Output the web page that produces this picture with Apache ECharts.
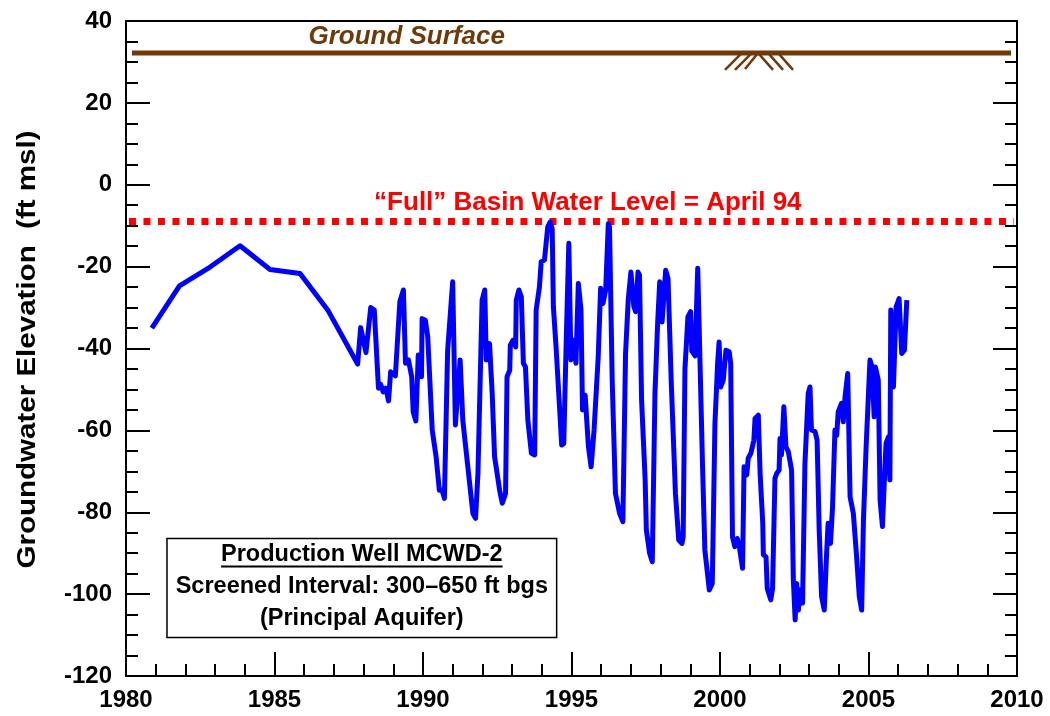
<!DOCTYPE html>
<html>
<head>
<meta charset="utf-8">
<script src="https://cdn.jsdelivr.net/npm/echarts@6/dist/echarts.min.js"></script>
<style>html,body{margin:0;padding:0;background:#fff}#c{width:1050px;height:716px}</style>
</head>
<body>
<div id="c"></div>
<script>
// ---- data ----
const years = [1980.87,1981.8,1982.83,1983.84,1984.85,1985.86,1986.81,1987.8,1987.9,1988.08,1988.24,1988.36,1988.5,1988.57,1988.66,1988.75,1988.84,1988.91,1989.07,1989.22,1989.34,1989.41,1989.51,1989.62,1989.67,1989.76,1989.84,1989.95,1989.97,1990.08,1990.16,1990.31,1990.44,1990.55,1990.64,1990.72,1990.83,1991.0,1991.09,1991.25,1991.34,1991.46,1991.57,1991.68,1991.77,1991.85,1991.99,1992.08,1992.13,1992.24,1992.33,1992.41,1992.58,1992.67,1992.78,1992.83,1992.92,1992.94,1993.03,1993.12,1993.14,1993.23,1993.31,1993.38,1993.45,1993.53,1993.65,1993.76,1993.81,1993.92,1993.98,1994.09,1994.2,1994.28,1994.35,1994.39,1994.48,1994.59,1994.67,1994.74,1994.82,1994.91,1994.98,1995.07,1995.15,1995.23,1995.32,1995.37,1995.46,1995.57,1995.66,1995.76,1995.9,1995.98,1996.06,1996.15,1996.24,1996.28,1996.37,1996.48,1996.62,1996.73,1996.82,1996.91,1997.0,1997.1,1997.16,1997.24,1997.29,1997.36,1997.48,1997.52,1997.63,1997.72,1997.81,1997.9,1997.97,1998.05,1998.17,1998.25,1998.36,1998.5,1998.61,1998.72,1998.76,1998.82,1998.92,1999.01,1999.05,1999.16,1999.25,1999.41,1999.49,1999.64,1999.74,1999.83,1999.92,1999.97,2000.02,2000.11,2000.2,2000.31,2000.36,2000.42,2000.5,2000.58,2000.65,2000.76,2000.81,2000.9,2000.95,2001.04,2001.14,2001.18,2001.29,2001.35,2001.44,2001.46,2001.55,2001.59,2001.71,2001.77,2001.85,2001.91,2001.99,2002.02,2002.07,2002.15,2002.22,2002.3,2002.41,2002.47,2002.53,2002.58,2002.64,2002.69,2002.78,2002.86,2002.97,2003.03,2003.08,2003.2,2003.27,2003.34,2003.42,2003.51,2003.59,2003.64,2003.72,2003.79,2003.87,2003.93,2003.98,2004.09,2004.15,2004.21,2004.3,2004.38,2004.49,2004.6,2004.69,2004.77,2004.83,2004.92,2005.05,2005.12,2005.19,2005.23,2005.33,2005.39,2005.47,2005.53,2005.59,2005.67,2005.72,2005.75,2005.84,2005.93,2006.03,2006.12,2006.21,2006.29];
const levels = [-35,-24.7,-20.1,-14.9,-20.7,-21.7,-30.8,-43.8,-34.9,-41,-30,-30.6,-49.7,-48.7,-50.6,-49.7,-52.8,-45.7,-46.7,-28.6,-25.7,-43.6,-42.8,-46.9,-55.5,-57.7,-41.6,-46.9,-32.7,-33.1,-37.2,-59.9,-66.4,-74.6,-74.6,-76.6,-40.4,-23.7,-58.7,-42.8,-57.5,-65.6,-72.9,-80.3,-81.5,-70.5,-28.2,-25.7,-42.8,-38.8,-51,-66.4,-74.6,-77.8,-75.4,-46.9,-45.3,-39.2,-38,-39.6,-28.2,-25.7,-27.4,-43.6,-44.5,-57.5,-65.6,-66,-30.6,-25,-18.8,-18.4,-10.3,-9.1,-10.7,-29.8,-39.6,-53.4,-63.6,-63.2,-38.8,-14.3,-42.8,-38,-43.6,-24.1,-30.6,-55,-51.4,-64,-68.9,-59.9,-42,-25.3,-29,-25.7,-9.5,-10.3,-47.7,-75.4,-80.3,-82.3,-41.2,-28.2,-21.3,-29.8,-31,-21.3,-22.1,-52.6,-72.1,-84.3,-90,-92.1,-51,-33.9,-23.7,-33.5,-20.9,-22.9,-48.5,-75.4,-86.8,-87.6,-86,-45,-32.3,-31,-40.6,-41.8,-20.4,-68.1,-89.2,-99,-97.4,-58.3,-43.6,-38.4,-49.4,-47.7,-40.4,-40.8,-43.6,-86,-88.4,-86.4,-88.4,-93.7,-68.9,-70.9,-66.8,-65.6,-62.4,-57.1,-56.3,-70.5,-82.7,-90.4,-90.9,-98.6,-101.4,-98.6,-71.7,-70.5,-69.7,-62,-66,-54.2,-64,-65.2,-69.7,-96.5,-106.3,-97.4,-103.9,-99,-102.2,-68.1,-51,-49.4,-59.9,-60.3,-62.4,-84.3,-100.6,-103.9,-90,-82.7,-87.6,-78.6,-59.9,-61.2,-55.5,-53.4,-57.9,-51.8,-46.1,-76.2,-80.3,-90.9,-100.6,-103.9,-81.9,-64,-42.8,-44.5,-56.7,-44.5,-47.7,-77,-83.5,-72.9,-63.2,-61.6,-72.1,-30.6,-49.4,-29.8,-27.8,-41.2,-40.4,-28.2];
const groundSurface = 32.2;
const groundExtent = [1980.2, 2009.8];
const fullBasinLevel = -9;
const basinExtent = [1980.1, 2009.9];
const xTicks = {min: 1980, max: 2010, interval: 5};
const yTicks = {min: -120, max: 40, interval: 20};
const titleY = 'Groundwater Elevation  (ft msl)';
const groundLabel = 'Ground Surface';
const basinLabel = '\u201CFull\u201D Basin Water Level = April 94';
const boxLines = ['Production Well MCWD-2', 'Screened Interval: 300\u2013650 ft bgs', '(Principal Aquifer)'];

(function () {
const FONT = '"Liberation Sans", Arial, sans-serif';
const BROWN = '#6E3A0A';
const chart = echarts.init(document.getElementById('c'), null, {renderer: 'canvas'});
const mctx = document.createElement('canvas').getContext('2d');
function measure(text, font) { mctx.font = font; return mctx.measureText(text).width; }

const axisLine = {show: true, onZero: false, lineStyle: {color: '#000', width: 2}};
const option = {
  animation: false,
  backgroundColor: '#fff',
  grid: {left: 126, right: 33, top: 21, bottom: 40, containLabel: false},
  xAxis: [{
    type: 'value', min: xTicks.min, max: xTicks.max, interval: xTicks.interval,
    axisLine: axisLine,
    axisTick: {show: true, inside: true, length: 24, lineStyle: {color: '#000', width: 2}},
    minorTick: {show: true, splitNumber: 5, length: 12, lineStyle: {color: '#000', width: 2}},
    splitLine: {show: false},
    axisLabel: {fontFamily: FONT, fontWeight: 'bold', fontSize: 24, color: '#000', margin: 12, formatter: v => String(v)},
  }, {
    type: 'value', position: 'top', min: xTicks.min, max: xTicks.max,
    axisLine: axisLine, axisTick: {show: false}, axisLabel: {show: false}, splitLine: {show: false}
  }],
  yAxis: [{
    type: 'value', min: yTicks.min, max: yTicks.max, interval: yTicks.interval,
    axisLine: axisLine,
    axisTick: {show: true, inside: true, length: 24, lineStyle: {color: '#000', width: 2}},
    minorTick: {show: true, splitNumber: 4, length: 12, lineStyle: {color: '#000', width: 2}},
    splitLine: {show: false},
    axisLabel: {fontFamily: FONT, fontWeight: 'bold', fontSize: 24, color: '#000', margin: 14, formatter: v => String(v)}
  }, {
    type: 'value', position: 'right', min: yTicks.min, max: yTicks.max, interval: yTicks.interval,
    axisLine: axisLine,
    axisTick: {show: true, inside: true, length: 24, lineStyle: {color: '#000', width: 2}},
    minorTick: {show: true, splitNumber: 4, length: 12, lineStyle: {color: '#000', width: 2}},
    splitLine: {show: false}, axisLabel: {show: false}
  }],
  series: [{
    type: 'line', name: 'ground', symbol: 'none', silent: true,
    data: groundExtent.map(x => [x, groundSurface]),
    lineStyle: {color: BROWN, width: 5}
  }, {
    type: 'line', name: 'basin', symbol: 'none', silent: true,
    data: basinExtent.map(x => [x, fullBasinLevel]),
    lineStyle: {color: '#FF0000', width: 7, type: [7, 7.5], cap: 'butt'}
  }, {
    type: 'line', name: 'well', symbol: 'none', silent: true,
    data: years.map((y, i) => [y, levels[i]]),
    lineStyle: {color: '#0000FF', width: 5, join: 'round'}
  }]
};
chart.setOption(option);

function px(x, y) { return chart.convertToPixel({xAxisIndex: 0, yAxisIndex: 0}, [x, y]); }

const g = [];
// Y axis title (stretched along its length to match reference)
const titleFont = 'bold 26px ' + FONT;
const tw = measure(titleY, titleFont);
const pTop = px(1980, 40), pBot = px(1980, -120);
g.push({type: 'text', x: 28, y: (pTop[1] + pBot[1]) / 2 + 1, rotation: Math.PI / 2, scaleX: 438 / tw,
  style: {text: titleY, fill: '#000', font: titleFont, textAlign: 'center', textVerticalAlign: 'middle'}});
// Ground surface label
const gl = px(1989.45, 36.2);
g.push({type: 'text', x: gl[0], y: gl[1], style: {text: groundLabel, fill: BROWN, font: 'italic bold 26px ' + FONT, textAlign: 'center', textVerticalAlign: 'middle'}});
// ground symbol
const apex = px(2001.28, groundSurface);
const segs = [[-33,17,-16,0],[-23,17,-6,0],[-13,16,0,0],[0,0,15,17],[10,0,25,17],[20,0,35,17]];
segs.forEach(s => g.push({type: 'line', shape: {x1: apex[0]+s[0], y1: apex[1]+s[1], x2: apex[0]+s[2], y2: apex[1]+s[3]}, style: {stroke: BROWN, lineWidth: 2.5}}));
// Basin label
const bl = px(1995.55, -4.3);
g.push({type: 'text', x: bl[0], y: bl[1], style: {text: basinLabel, fill: '#FF0000', font: 'bold 26px ' + FONT, textAlign: 'center', textVerticalAlign: 'middle'}});
// Box
const b0 = px(1981.38, -86.4), b1 = px(1994.5, -110.6);
g.push({type: 'rect', shape: {x: b0[0], y: b0[1], width: b1[0]-b0[0], height: b1[1]-b0[1]}, style: {fill: '#fff', stroke: '#000', lineWidth: 1.5}});
const cx = (b0[0] + b1[0]) / 2;
const lineYs = [b0[1] + 16, b0[1] + 48, b0[1] + 80];
const boxFont = 'bold 23.5px ' + FONT;
boxLines.forEach((t, i) => {
  g.push({type: 'text', x: cx, y: lineYs[i], style: {text: t, fill: '#000', font: boxFont, textAlign: 'center', textVerticalAlign: 'middle'}});
});
const uw = measure(boxLines[0], boxFont);
g.push({type: 'line', shape: {x1: cx - uw/2, y1: lineYs[0] + 12, x2: cx + uw/2, y2: lineYs[0] + 12}, style: {stroke: '#000', lineWidth: 2}});

chart.setOption({graphic: g});
})();
</script>
</body>
</html>
